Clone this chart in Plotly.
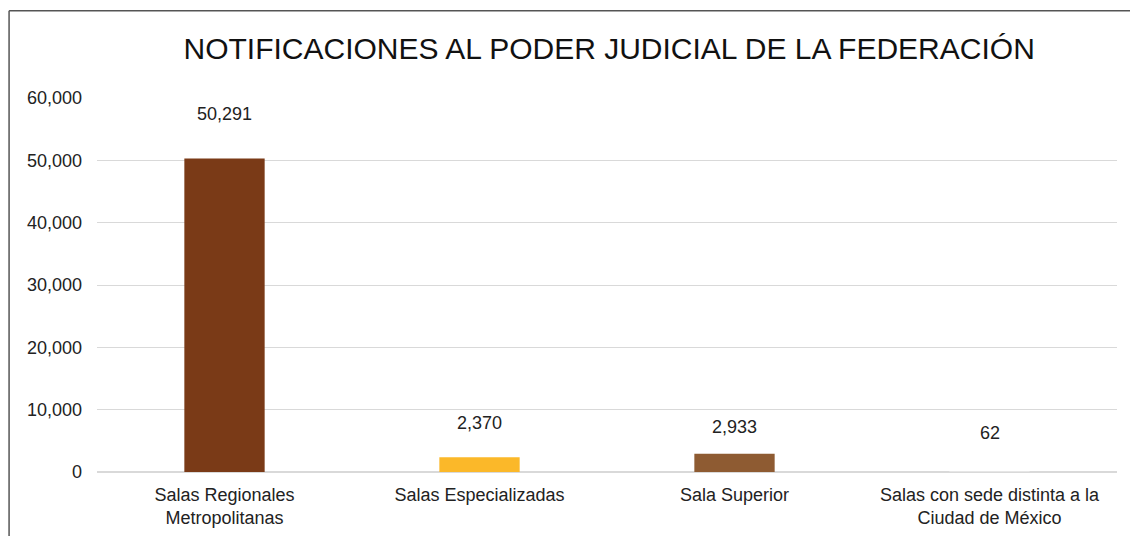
import plotly.graph_objects as go

categorias = ["Salas Regionales<br>Metropolitanas", "Salas Especializadas",
              "Sala Superior", "Salas con sede distinta a la<br>Ciudad de México"]
valores = [50291, 2370, 2933, 62]
colores = ["#7a3a17", "#fbb829", "#8e5b32", "#e6e6e6"]
y_ticks = [0, 10000, 20000, 30000, 40000, 50000, 60000]

# separación (px) de cada etiqueta respecto a la punta de su barra
desplaz = [45, 34, 27, 39]

fuente = "Liberation Sans, Arial, sans-serif"

fig = go.Figure(go.Bar(
    x=categorias,
    y=valores,
    marker=dict(color=colores, line=dict(width=0)),
    width=0.315,
))

for c, v, d in zip(categorias, valores, desplaz):
    fig.add_annotation(x=c, y=v, text=f"{v:,}", showarrow=False,
                       yshift=d, yanchor="middle",
                       font=dict(size=18, color="#222222"))

# la página deja 8 px de margen, por eso la figura es algo menor que la ventana
fig.update_layout(
    width=1130, height=528,
    margin=dict(l=89, r=21, t=90, b=64),
    paper_bgcolor="white", plot_bgcolor="white",
    font=dict(family=fuente, color="#222222"),
    title=dict(text="NOTIFICACIONES AL PODER JUDICIAL DE LA FEDERACIÓN",
               x=0.532, xanchor="center", y=0.924, yanchor="middle",
               font=dict(size=30, color="#111111")),
    showlegend=False,
)
fig.update_yaxes(range=[0, 60000], tickvals=y_ticks, tickformat=",",
                 showgrid=True, gridcolor="#d9d9d9", gridwidth=1,
                 zeroline=True, zerolinecolor="#d9d9d9",
                 ticks="", ticklabelstandoff=14, automargin=False,
                 tickfont=dict(size=18, color="#222222"))
fig.update_xaxes(showline=False, ticks="", ticklabelstandoff=10,
                 automargin=False,
                 tickfont=dict(size=18, color="#222222"))

# marco izquierdo y superior del recuadro
fig.add_shape(type="line", xref="paper", yref="paper",
              x0=-0.0862, x1=-0.0862, y0=-0.3, y1=1.233,
              line=dict(color="#555555", width=1.5))
fig.add_shape(type="line", xref="paper", yref="paper",
              x0=-0.0862, x1=1.1, y0=1.233, y1=1.233,
              line=dict(color="#555555", width=1.5))

fig.write_html("out.html")
